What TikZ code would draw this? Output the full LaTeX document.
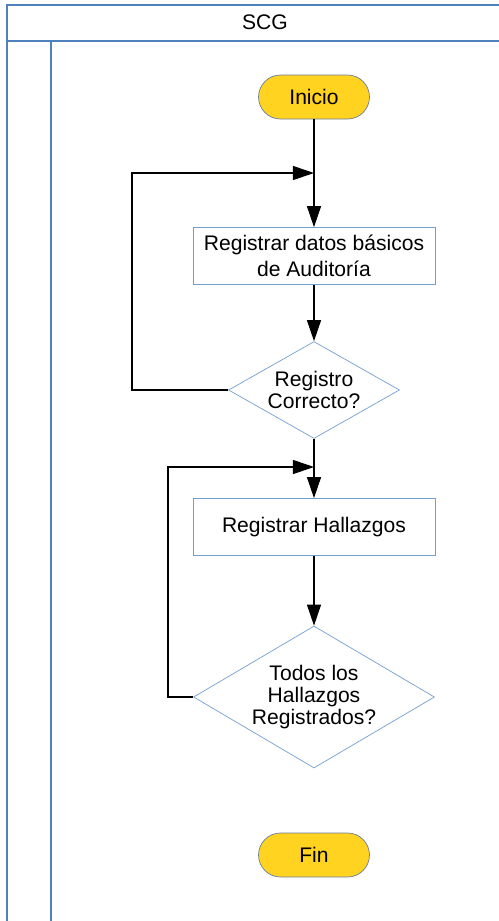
\documentclass[tikz,border=0pt]{standalone}
\usepackage{fontspec}
\setmainfont{Liberation Sans}
\usetikzlibrary{shapes.geometric,arrows.meta}
\definecolor{lanecol}{RGB}{79,129,189}
\definecolor{shapecol}{RGB}{114,159,207}
\definecolor{termfill}{RGB}{255,211,32}
\definecolor{termedge}{RGB}{105,125,155}
\tikzset{
  terminal/.style={draw=termedge,fill=termfill,rectangle,rounded corners=0.44cm,
    minimum width=2.22cm,minimum height=0.88cm,font=\fontsize{12}{14}\selectfont},
  process/.style={draw=shapecol,rectangle,align=center,
    minimum width=4.84cm,minimum height=1.14cm,font=\fontsize{12}{14.5}\selectfont},
  decision/.style={draw=shapecol,diamond,align=center,inner sep=0pt,
    font=\fontsize{12}{12.5}\selectfont},
  flow/.style={-{Triangle[length=12pt,width=8pt]},line width=0.6pt},
  lane/.style={draw=lanecol,line width=0.9pt}
}
\begin{document}
\begin{tikzpicture}[x=0.02cm,y=-0.02cm]
\useasboundingbox (0,0) rectangle (499,921);
\path[lane] (7,921) -- (7,5) -- (499,5) (7,41) -- (499,41) (51,41) -- (51,921);
\node (scg) at (265,22) {\fontsize{12}{14}\selectfont SCG};

\node[terminal] (inicio) at (314,97) {Inicio};
\node[process] (datos) at (314,256) {Registrar datos básicos\\de Auditoría};
\node[decision,minimum width=3.42cm,minimum height=1.94cm,aspect=1.75] (correcto) at (314,390) {Registro\\Correcto?};
\node[process] (hallazgos) at (314,527) {Registrar Hallazgos};
\node[decision,minimum width=4.82cm,minimum height=2.84cm,aspect=1.7] (todos) at (314,697) {Todos los\\Hallazgos\\Registrados?};
\node[terminal] (fin) at (314,855) {Fin};

\coordinate (j1) at (314,173);
\coordinate (l1) at (132,173);
\coordinate (j2) at (314,467);
\coordinate (l2) at (168,467);

\draw[flow] (inicio) -- (datos);
\draw[flow] (datos) -- (correcto);
\draw[flow] (correcto.west) -| (l1) -- (j1);
\draw[flow] (correcto) -- (hallazgos);
\draw[flow] (hallazgos) -- (todos);
\draw[flow] (todos.west) -| (l2) -- (j2);
\end{tikzpicture}
\end{document}
